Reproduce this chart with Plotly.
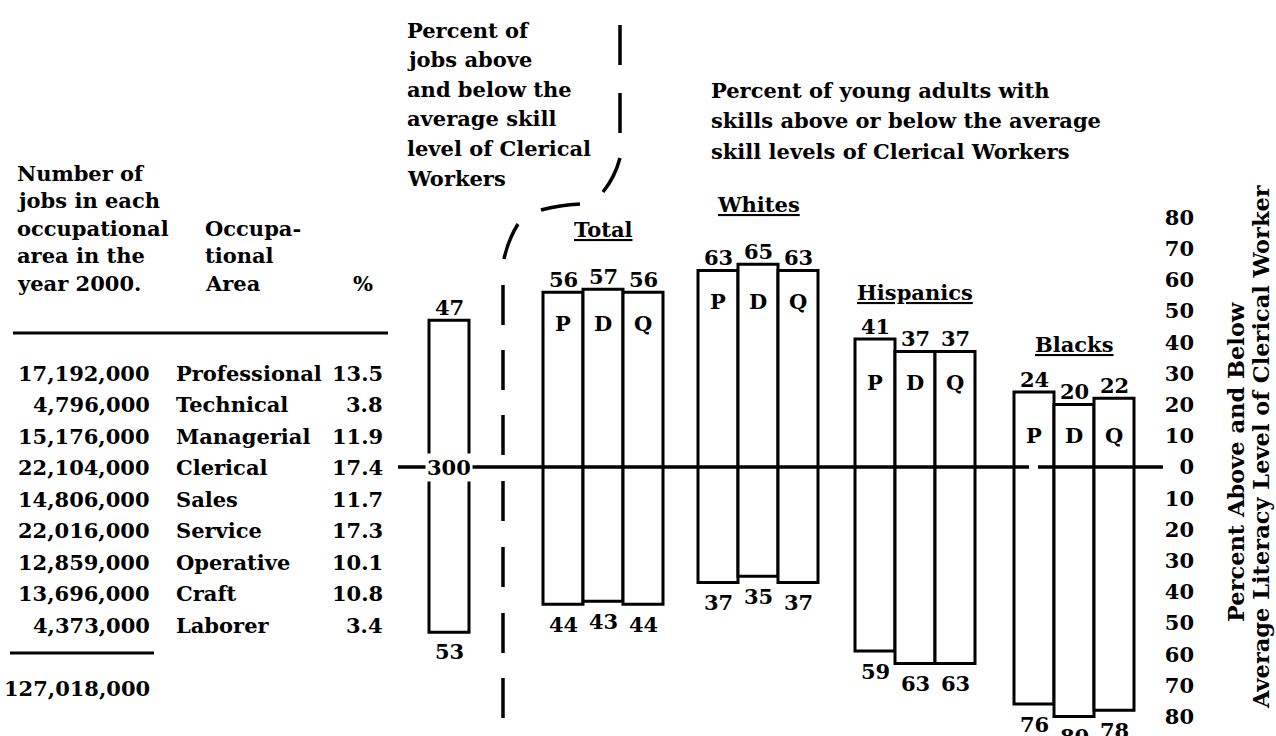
import plotly.graph_objects as go

# ---- data -------------------------------------------------------------
occupations = ["Professional", "Technical", "Managerial", "Clerical", "Sales",
               "Service", "Operative", "Craft", "Laborer"]
job_counts = ["17,192,000", "4,796,000", "15,176,000", "22,104,000", "14,806,000",
              "22,016,000", "12,859,000", "13,696,000", "4,373,000"]
job_shares = ["13.5", "3.8", "11.9", "17.4", "11.7", "17.3", "10.1", "10.8", "3.4"]
job_total = "127,018,000"

jobs_above = 47
jobs_below = 53
jobs_center_label = "300"

groups = ["Total", "Whites", "Hispanics", "Blacks"]
tests = ["P", "D", "Q"]
above = {
    "Total": [56, 57, 56],
    "Whites": [63, 65, 63],
    "Hispanics": [41, 37, 37],
    "Blacks": [24, 20, 22],
}
below = {
    "Total": [44, 43, 44],
    "Whites": [37, 35, 37],
    "Hispanics": [59, 63, 63],
    "Blacks": [76, 80, 78],
}
axis_ticks = [80, 70, 60, 50, 40, 30, 20, 10, 0, -10, -20, -30, -40, -50, -60, -70, -80]

# ---- layout constants ---------------------------------------------------
W, H = 1276, 736
ZERO_PX = 467          # pixel row of the zero line
PX_PER_UNIT = 3.12     # vertical pixels per percentage point
BAR_W = 40
JOBS_BAR_X = 449
GROUP_LEFT = [543, 698, 855, 1014]
GROUP_LABEL_GAP = [60, 60, 47, 48]
FONT = "DejaVu Serif"
FS = 21
INK = "black"

y_lo = -(H - ZERO_PX) / PX_PER_UNIT
y_hi = ZERO_PX / PX_PER_UNIT

fig = go.Figure()

# ---- bars ---------------------------------------------------------------
bar_x, bar_h, bar_base = [JOBS_BAR_X], [jobs_above + jobs_below], [-jobs_below]
annotations = []
shapes = []

def txt(x, y, text, xref="x", yref="y2", xanchor="center", yanchor="middle",
        size=FS, **kw):
    annotations.append(dict(x=x, y=y, xref=xref, yref=yref, text=text,
                            showarrow=False, xanchor=xanchor, yanchor=yanchor,
                            font=dict(family=FONT, size=size, color=INK, weight="bold"),
                            **kw))

# job bar labels
txt(JOBS_BAR_X, jobs_above, str(jobs_above), yref="y", yshift=13)
txt(JOBS_BAR_X, -jobs_below, str(jobs_below), yref="y", yshift=-19)

for gi, g in enumerate(groups):
    centers = [GROUP_LEFT[gi] + BAR_W / 2 + i * BAR_W for i in range(len(tests))]
    for i, c in enumerate(centers):
        a, b = above[g][i], below[g][i]
        bar_x.append(c)
        bar_h.append(a + b)
        bar_base.append(-b)
        txt(c, a, str(a), yref="y", yshift=13)
        txt(c, -b, str(b), yref="y", yshift=-20)
    # test letters inside the bars, a little below the lowest top
    low_top_px = ZERO_PX - min(above[g]) * PX_PER_UNIT
    for i, c in enumerate(centers):
        txt(c, low_top_px + 31, tests[i])
    # underlined group label
    high_top_px = ZERO_PX - max(above[g]) * PX_PER_UNIT
    gc = sum(centers) / len(centers)
    txt(gc, high_top_px - GROUP_LABEL_GAP[gi],
        '<span style="text-decoration:underline">%s</span>' % g)

fig.add_trace(go.Bar(
    x=bar_x, y=bar_h, base=bar_base, width=BAR_W,
    marker=dict(color="white", line=dict(color=INK, width=3)),
    hoverinfo="skip", showlegend=False,
))

# ---- zero line -----------------------------------------------------------
shapes.append(dict(type="line", xref="x", yref="y", x0=398, x1=1163, y0=0, y1=0,
                   line=dict(color=INK, width=3.5), layer="above"))
# small break in the line inside the first Blacks bar
shapes.append(dict(type="line", xref="x", yref="y", x0=1029, x1=1038, y0=0, y1=0,
                   line=dict(color="white", width=5), layer="above"))
txt(JOBS_BAR_X, 0, jobs_center_label, yref="y", bgcolor="white", borderpad=1)

# ---- dashed divider --------------------------------------------------------
div_line = dict(color=INK, width=3.5)
for y0, y1 in [(25, 65), (93, 133)]:
    shapes.append(dict(type="line", xref="x", yref="y2", x0=620, x1=620,
                       y0=y0, y1=y1, line=div_line))
shapes.append(dict(type="path", xref="x", yref="y2",
                   path="M 620 158 Q 615 177 603 192", line=div_line))
shapes.append(dict(type="path", xref="x", yref="y2",
                   path="M 541 210 Q 560 205 580 204", line=div_line))
shapes.append(dict(type="path", xref="x", yref="y2",
                   path="M 518 224 Q 508 240 504 259", line=div_line))
for y0 in [285, 350, 415, 481, 547, 613, 678]:
    shapes.append(dict(type="line", xref="x", yref="y2", x0=503, x1=503,
                       y0=y0, y1=y0 + 40, line=div_line))

# ---- titles --------------------------------------------------------------
left_title = ["Percent of", "jobs above", "and below the", "average skill",
              "level of Clerical", "Workers"]
for i, line in enumerate(left_title):
    txt(405, 30 + i * 29.6, line, xanchor="left")
right_title = ["Percent of young adults with",
               "skills above or below the average",
               "skill levels of Clerical Workers"]
for i, line in enumerate(right_title):
    txt(709, 90 + i * 30.5, line, xanchor="left")

# ---- occupation table ------------------------------------------------------
head1 = ["Number of", "jobs in each", "occupational", "area in the", "year 2000."]
for i, line in enumerate(head1):
    txt(15, 173 + i * 27.5, line, xanchor="left")
for i, line in enumerate(["Occupa-", "tional", "Area"]):
    txt(203, 228 + i * 27.5, line, xanchor="left")
txt(375, 283, "%", xanchor="right")
shapes.append(dict(type="line", xref="x", yref="y2", x0=13, x1=388, y0=333, y1=333,
                   line=dict(color=INK, width=3)))

for i in range(len(occupations)):
    yy = 373 + i * 31.5
    txt(152, yy, job_counts[i], xanchor="right")
    txt(174, yy, occupations[i], xanchor="left")
    txt(385, yy, job_shares[i], xanchor="right")
shapes.append(dict(type="line", xref="x", yref="y2", x0=10, x1=154, y0=653, y1=653,
                   line=dict(color=INK, width=3)))
txt(152, 688, job_total, xanchor="right")

# ---- right-hand axis title ---------------------------------------------------
txt(1236, 462, "Percent Above and Below", textangle=-90, size=22.5)
txt(1261, 447, "Average Literacy Level of Clerical Worker", textangle=-90, size=22.5)

fig.update_layout(
    width=W, height=H,
    margin=dict(l=0, r=0, t=0, b=0),
    paper_bgcolor="white", plot_bgcolor="white",
    showlegend=False,
    xaxis=dict(range=[0, W], domain=[0, 1], visible=False, fixedrange=True),
    yaxis=dict(range=[y_lo, y_hi], anchor="free", position=1194 / W, side="left",
               tickvals=axis_ticks, ticktext=[str(abs(v)) for v in axis_ticks],
               ticks="", showline=False, showgrid=False, zeroline=False,
               tickfont=dict(family=FONT, size=FS, color=INK, weight="bold"),
               fixedrange=True),
    yaxis2=dict(range=[H, 0], overlaying="y", anchor="x", visible=False,
                fixedrange=True),
    annotations=annotations,
    shapes=shapes,
)

fig.write_html("out.html")
